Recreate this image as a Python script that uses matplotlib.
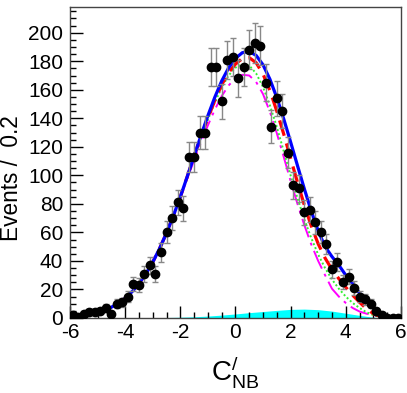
import numpy as np
import matplotlib
matplotlib.use("Agg")
import matplotlib.pyplot as plt
from matplotlib.ticker import MultipleLocator

plt.rcParams['font.family'] = ['Liberation Sans', 'DejaVu Sans']
plt.rcParams['mathtext.fontset'] = 'custom'
plt.rcParams['mathtext.rm'] = 'Liberation Sans'
plt.rcParams['mathtext.it'] = 'Liberation Sans'
plt.rcParams['axes.unicode_minus'] = False

# binned data (bin width 0.2)
bin_centers = np.round(np.arange(-5.9, 6.0, 0.2), 2)
counts = [2, 1, 3, 4, 4, 5, 7, 3, 10, 11,
          15, 24, 23, 31, 37, 31, 46, 60, 70, 81,
          77, 113, 113, 130, 130, 176, 176, 152, 181, 183,
          168, 176, 188, 193, 191, 165, 134, 154, 145, 116,
          93, 91, 74, 76, 67, 60, 52, 34, 39, 25,
          29, 21, 15, 13, 10, 5, 2, 0, 0, 0]

# fit curves, read at steps of 0.25
curve_x = np.round(np.arange(-6.0, 6.01, 0.25), 2)
total_fit = [0.8, 1.2, 1.8, 2.6, 3.8, 5.3, 7.5, 10.2, 13.8, 18.4,
             24.1, 30.9, 39.1, 48.7, 59.6, 71.7, 84.9, 99.0, 113.4, 127.9,
             141.8, 154.7, 166.1, 175.3, 182.1, 186.0, 186.9, 184.1, 177.5, 167.4,
             154.5, 139.6, 123.4, 106.8, 90.4, 74.9, 61.0, 50.0, 43.0, 37.0,
             30.0, 24.0, 17.5, 12.0, 7.0, 3.0, 0.5, 0.0, 0.0]
red_fit = [0.8, 1.2, 1.8, 2.6, 3.8, 5.3, 7.5, 10.2, 13.8, 18.4,
           24.1, 30.9, 39.1, 48.7, 59.6, 71.7, 84.9, 99.0, 113.4, 127.5,
           140.0, 152.5, 163.5, 172.0, 178.0, 182.0, 182.5, 179.0, 171.0, 159.5,
           145.0, 129.0, 112.0, 95.0, 79.0, 64.5, 52.0, 42.0, 34.0, 27.5,
           21.5, 16.0, 11.0, 6.5, 3.0, 1.0, 0.0, 0.0, 0.0]
green_fit = [0.8, 1.2, 1.8, 2.6, 3.8, 5.3, 7.5, 10.2, 13.8, 18.4,
             24.1, 30.9, 39.1, 48.7, 59.6, 71.7, 84.9, 99.0, 113.0, 127.0,
             139.0, 151.0, 161.5, 170.0, 175.5, 178.0, 177.0, 171.5, 162.0, 149.0,
             134.0, 117.0, 100.0, 84.0, 69.0, 56.0, 44.5, 35.0, 27.0, 20.5,
             15.0, 10.5, 7.0, 4.0, 2.0, 0.7, 0.0, 0.0, 0.0]
magenta_fit = [0.8, 1.2, 1.8, 2.6, 3.8, 5.3, 7.5, 10.2, 13.8, 18.4,
               24.1, 30.9, 39.1, 48.7, 59.6, 71.7, 84.0, 97.5, 110.5, 123.0,
               135.0, 146.0, 155.5, 163.0, 168.0, 170.5, 170.0, 165.5, 157.0, 144.5,
               129.5, 113.0, 96.0, 80.0, 65.0, 51.5, 40.0, 30.0, 20.5, 15.0,
               10.5, 7.0, 4.5, 3.0, 2.0, 1.0, 0.0, 0.0, 0.0]

# background component, read at steps of 0.5
bkg_x = np.round(np.arange(-6.0, 6.01, 0.5), 1)
bkg = [0.0, 0.0, 0.0, 0.0, 0.0, 0.1, 0.2, 0.3, 0.5, 0.8,
       1.3, 2.0, 2.8, 3.7, 4.5, 5.3, 6.0, 6.2, 5.8, 4.8,
       3.3, 1.8, 0.5, 0.0, 0.0]

fig = plt.figure(figsize=(4.07, 3.93), dpi=100)
ax = fig.add_axes([0.172, 0.191, 0.813, 0.791])

ax.fill_between(bkg_x, bkg, 0, color='#00ffff', lw=0, zorder=1)

ax.plot(curve_x, magenta_fit, color='#ff00ff', lw=1.4, dashes=(10, 3, 1.5, 3), zorder=3)
ax.plot(curve_x, green_fit, color='#33ee33', lw=1.4, ls=(0, (1, 1.2)), zorder=3)
ax.plot(curve_x, red_fit, color='#ff0000', lw=2.3, dashes=(5, 2.5), zorder=3)
ax.plot(curve_x, total_fit, color='#0000ff', lw=2.3, zorder=4)

errs = np.sqrt(np.array(counts, dtype=float))
ax.errorbar(bin_centers, counts, yerr=errs, fmt='o', color='black', ms=6,
            ecolor='#888888', elinewidth=1.0, capsize=2, capthick=1.0, zorder=5)

ax.set_xlim(-6, 6)
ax.set_ylim(0, 218)
ax.xaxis.set_major_locator(MultipleLocator(2))
ax.xaxis.set_minor_locator(MultipleLocator(0.5))
ax.yaxis.set_minor_locator(MultipleLocator(5))
ax.set_yticks([0, 20, 40, 60, 80, 100, 120, 140, 160, 180, 200])
ax.tick_params(which='both', direction='in', top=False, right=False,
               labelsize=15, colors='black')
ax.tick_params(which='major', length=9, width=1)
ax.tick_params(which='minor', length=4.5, width=1)
ax.tick_params(axis='y', which='major', pad=5)
ax.tick_params(axis='x', which='major', pad=4)
for sp in ax.spines.values():
    sp.set_color('#444444')
    sp.set_linewidth(1)

ax.set_ylabel('Events /  0.2', fontsize=16.3)
ax.yaxis.set_label_coords(-0.142, 0.45)
ax.set_xlabel(r'$\mathrm{C}^{/}_{\mathrm{NB}}$', fontsize=20, labelpad=8)

plt.savefig('out.png', dpi=100)
